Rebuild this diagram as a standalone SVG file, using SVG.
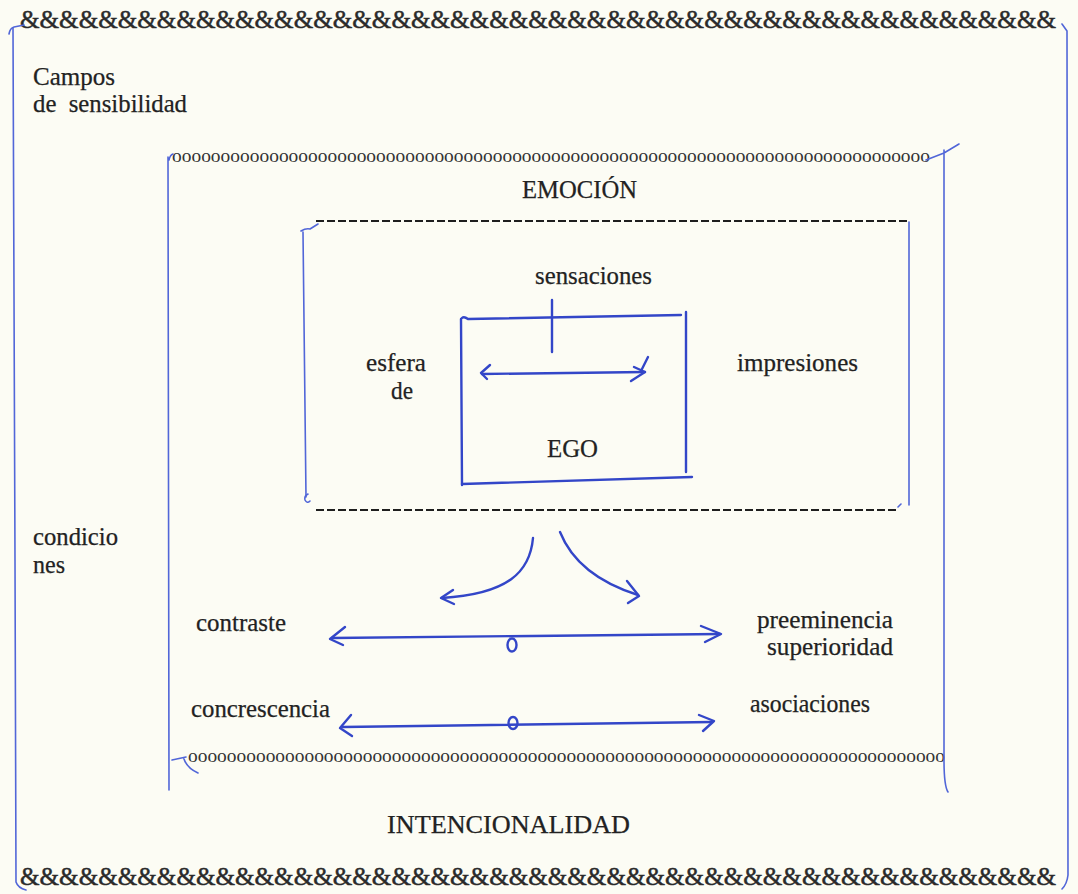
<svg xmlns="http://www.w3.org/2000/svg" width="1078" height="894" viewBox="0 0 1078 894">
  <defs>
    <style>
      .t { font-family: "Liberation Serif", "Times New Roman", serif; font-size: 25px; fill: #222; stroke: #222; stroke-width: 0.25; }
      .amp { font-family: "Liberation Serif", "Times New Roman", serif; font-size: 25px; fill: #2a2a2a; stroke: #2a2a2a; stroke-width: 0.5; }
      .dots { font-family: "Liberation Serif", "Times New Roman", serif; font-size: 19px; fill: #333; }
      .frame { fill: none; stroke: #5166d8; stroke-width: 1.6; stroke-linecap: round; stroke-linejoin: round; }
      .pen { fill: none; stroke: #3346c8; stroke-width: 2.4; stroke-linecap: round; stroke-linejoin: round; }
      .dash { stroke: #1e1e1e; stroke-width: 2; stroke-dasharray: 8 3; }
    </style>
  </defs>

  <rect width="1078" height="894" fill="#fcfcf4"/>

  <!-- border rows of ampersands -->
  <g id="border-top">
    <text class="amp" x="20" y="28" textLength="1036" lengthAdjust="spacingAndGlyphs">&amp;&amp;&amp;&amp;&amp;&amp;&amp;&amp;&amp;&amp;&amp;&amp;&amp;&amp;&amp;&amp;&amp;&amp;&amp;&amp;&amp;&amp;&amp;&amp;&amp;&amp;&amp;&amp;&amp;&amp;&amp;&amp;&amp;&amp;&amp;&amp;&amp;&amp;&amp;&amp;&amp;&amp;&amp;&amp;&amp;&amp;&amp;&amp;&amp;&amp;&amp;&amp;&amp;</text>
  </g>
  <g id="border-bottom">
    <text class="amp" x="20" y="885" textLength="1036" lengthAdjust="spacingAndGlyphs">&amp;&amp;&amp;&amp;&amp;&amp;&amp;&amp;&amp;&amp;&amp;&amp;&amp;&amp;&amp;&amp;&amp;&amp;&amp;&amp;&amp;&amp;&amp;&amp;&amp;&amp;&amp;&amp;&amp;&amp;&amp;&amp;&amp;&amp;&amp;&amp;&amp;&amp;&amp;&amp;&amp;&amp;&amp;&amp;&amp;&amp;&amp;&amp;&amp;&amp;&amp;&amp;&amp;</text>
  </g>

  <!-- outer field: campos de sensibilidad -->
  <g id="campos">
    <path class="frame" d="M9,34 Q10,28 14,27 L24,25"/>
    <path class="frame" d="M13,28 L15,560 L16,882 Q18,888 26,890"/>
    <path class="frame" d="M1062,24 L1067,31 L1068,875 Q1067,884 1062,889"/>
    <text class="t" x="33" y="85" textLength="82" lengthAdjust="spacingAndGlyphs">Campos</text>
    <text class="t" x="33" y="112" textLength="154" lengthAdjust="spacingAndGlyphs" xml:space="preserve">de  sensibilidad</text>
    <text class="t" x="33" y="545" textLength="85" lengthAdjust="spacingAndGlyphs">condicio</text>
    <text class="t" x="33" y="573" textLength="32" lengthAdjust="spacingAndGlyphs">nes</text>
  </g>

  <!-- middle field: emoción / intencionalidad -->
  <g id="emocion">
    <text class="dots" x="172" y="162" textLength="758" lengthAdjust="spacingAndGlyphs">oooooooooooooooooooooooooooooooooooooooooooooooooooooooooooooooooooooooooooooo</text>
    <text class="dots" x="188" y="762" textLength="757" lengthAdjust="spacingAndGlyphs">oooooooooooooooooooooooooooooooooooooooooooooooooooooooooooooooooooooooooooooo</text>
    <path class="frame" d="M169,160 Q170,155 173,154 M168,157 L169,790"/>
    <path class="frame" d="M926,160 L944,153 L959,144 M944,150 L944,760 Q944,786 948,792"/>
    <path class="frame" d="M172,760 L186,757 M184,759 Q187,768 198,773"/>
    <text class="t" x="522" y="198" textLength="115" lengthAdjust="spacingAndGlyphs">EMOCIÓN</text>
    <text class="t" x="387" y="833" textLength="243" lengthAdjust="spacingAndGlyphs">INTENCIONALIDAD</text>
  </g>

  <!-- inner field bounded by dashed rules -->
  <g id="esfera">
    <line class="dash" x1="316" y1="221" x2="910" y2="221"/>
    <line class="dash" x1="316" y1="510" x2="898" y2="510"/>
    <path class="frame" d="M301,231 Q306,228 310,229 L318,224 M303,232 L306,497"/>
    <path class="frame" d="M308,494 Q304,496 305,500 Q307,504 310,501"/>
    <path class="frame" d="M909,222 L909,505 M898,507 L901,504"/>
    <text class="t" x="535" y="284" textLength="117" lengthAdjust="spacingAndGlyphs">sensaciones</text>
    <text class="t" x="366" y="371" textLength="60" lengthAdjust="spacingAndGlyphs">esfera</text>
    <text class="t" x="391" y="399" textLength="22" lengthAdjust="spacingAndGlyphs">de</text>
    <text class="t" x="737" y="371" textLength="121" lengthAdjust="spacingAndGlyphs">impresiones</text>
  </g>

  <!-- ego box -->
  <g id="ego">
    <path class="pen" d="M462,318 Q464,316 468,319 L681,315"/>
    <path class="pen" d="M461,319 L462,485"/>
    <path class="pen" d="M686,312 L686,472"/>
    <path class="pen" d="M462,484 L692,477"/>
    <text class="t" x="547" y="457" textLength="51" lengthAdjust="spacingAndGlyphs">EGO</text>
  </g>

  <!-- pen strokes: arrows and ticks -->
  <g id="connectors">
    <path class="pen" d="M552,300 L552,352"/>
    <!-- inner double arrow -->
    <path class="pen" d="M482,374 L645,372"/>
    <path class="pen" d="M490,365 L481,373 L487,379"/>
    <path class="pen" d="M634,367 L645,372 L631,381"/>
    <path class="pen" d="M641,371 L648,357" stroke-width="1.2"/>
    <!-- branching curves -->
    <path class="pen" d="M533,538 C530,572 508,594 442,598"/>
    <path class="pen" d="M453,590 L441,598 L454,604"/>
    <path class="pen" d="M560,532 C572,562 600,583 638,595"/>
    <path class="pen" d="M627,581 L639,596 L628,603"/>
    <!-- contraste / preeminencia -->
    <path class="pen" d="M332,638 L720,634"/>
    <path class="pen" d="M345,627 L330,639 L343,645"/>
    <path class="pen" d="M701,626 L721,634 L705,642"/>
    <ellipse class="pen" cx="512" cy="645" rx="4.5" ry="6.5"/>
    <!-- concrescencia / asociaciones -->
    <path class="pen" d="M343,727 L712,722"/>
    <path class="pen" d="M351,715 L340,728 L352,736"/>
    <path class="pen" d="M699,715 L714,721 L703,731"/>
    <ellipse class="pen" cx="513" cy="723" rx="4.5" ry="6"/>
  </g>

  <g id="condiciones">
    <text class="t" x="196" y="631" textLength="90" lengthAdjust="spacingAndGlyphs">contraste</text>
    <text class="t" x="757" y="628" textLength="136" lengthAdjust="spacingAndGlyphs">preeminencia</text>
    <text class="t" x="767" y="655" textLength="126" lengthAdjust="spacingAndGlyphs">superioridad</text>
    <text class="t" x="191" y="717" textLength="139" lengthAdjust="spacingAndGlyphs">concrescencia</text>
    <text class="t" x="750" y="712" textLength="120" lengthAdjust="spacingAndGlyphs">asociaciones</text>
  </g>
</svg>
